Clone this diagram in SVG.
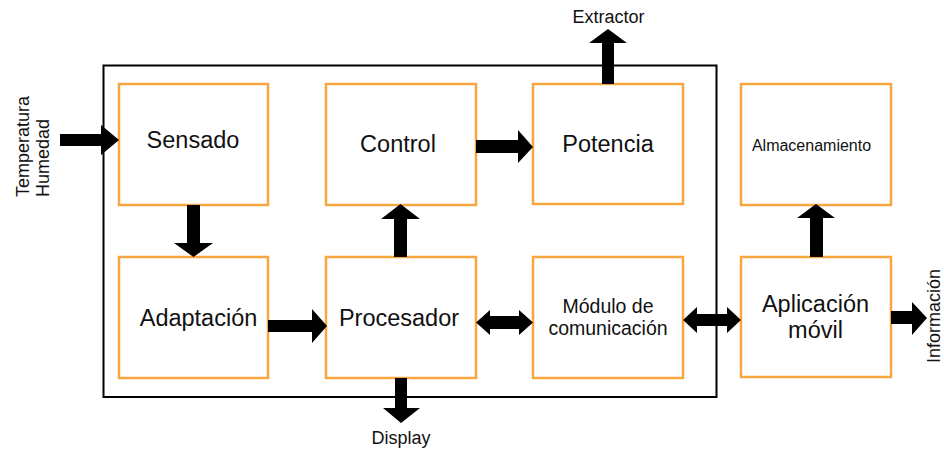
<svg xmlns="http://www.w3.org/2000/svg" width="944" height="451" viewBox="0 0 944 451">
<style>
.box{fill:#fff;stroke:#F8A640;stroke-width:2.5}
.t{font-family:"Liberation Sans",Arial,sans-serif;fill:#111;text-anchor:middle}
.big{font-size:23.5px}
.mid{font-size:19.5px}
.sm{font-size:16px}
.lab{font-size:18px}
.arr{fill:#000}
</style>
<rect x="0" y="0" width="944" height="451" fill="#fff"/>
<rect id="system" x="103.5" y="65.5" width="613" height="331.5" fill="none" stroke="#000" stroke-width="2"/>
<g id="sensado"><rect class="box" x="119" y="84" width="149" height="121"/><text class="t big" x="193" y="148">Sensado</text></g>
<g id="control"><rect class="box" x="326" y="84" width="150" height="121"/><text class="t big" x="398" y="152">Control</text></g>
<g id="potencia"><rect class="box" x="533" y="84" width="150" height="120"/><text class="t big" x="608" y="152">Potencia</text></g>
<g id="adaptacion"><rect class="box" x="119" y="257" width="149" height="121"/><text class="t big" x="198.5" y="326">Adaptación</text></g>
<g id="procesador"><rect class="box" x="326" y="257" width="150" height="121"/><text class="t big" x="399" y="326">Procesador</text></g>
<g id="modulo"><rect class="box" x="533" y="257" width="150" height="121"/><text class="t mid" x="608" y="313">Módulo de</text><text class="t mid" x="608" y="335">comunicación</text></g>
<g id="almacenamiento"><rect class="box" x="741" y="84" width="150" height="121"/><text class="t sm" x="811.5" y="151">Almacenamiento</text></g>
<g id="aplicacion"><rect class="box" x="741" y="257" width="150" height="120"/><text class="t big" x="815.5" y="312">Aplicación</text><text class="t big" x="815.5" y="338">móvil</text></g>
<g id="labels">
<text class="t lab" x="608.5" y="23">Extractor</text>
<text class="t lab" x="401" y="444">Display</text>
<text class="t lab" style="text-anchor:start" transform="translate(29,197) rotate(-90)">Temperatura</text>
<text class="t lab" style="text-anchor:start" transform="translate(49,197) rotate(-90)">Humedad</text>
<text class="t lab" transform="translate(940,316) rotate(-90)">Información</text>
</g>
<g id="connectors">
<polygon class="arr" points="60,134 101,134 101,125 119,140 101,155 101,146 60,146"/>
<polygon class="arr" points="187,205 200,205 200,243 213,243 193.5,257 174,243 187,243"/>
<polygon class="arr" points="268,320 312,320 312,309 327,326 312,343 312,332 268,332"/>
<polygon class="arr" points="394,257 407,257 407,219 420,219 400.5,204 381,219 394,219"/>
<polygon class="arr" points="476,140 518,140 518,130 533,147 518,163 518,153 476,153"/>
<polygon class="arr" points="602,84 614,84 614,43 627,43 608,29 589,43 602,43"/>
<polygon class="arr" points="395,378 407,378 407,408 420,408 401,423 383,408 395,408"/>
<polygon class="arr" points="476,322.5 490,310 490,316 519,316 519,310 533,322.5 519,335 519,329 490,329 490,335"/>
<polygon class="arr" points="683,320 697,307 697,314 727,314 727,307 741,320 727,333 727,326 697,326 697,333"/>
<polygon class="arr" points="810,257 823,257 823,218 835,218 816,204 797,218 810,218"/>
<polygon class="arr" points="891,311 912,311 912,302 927,318 912,335 912,324 891,324"/>
</g>
</svg>
